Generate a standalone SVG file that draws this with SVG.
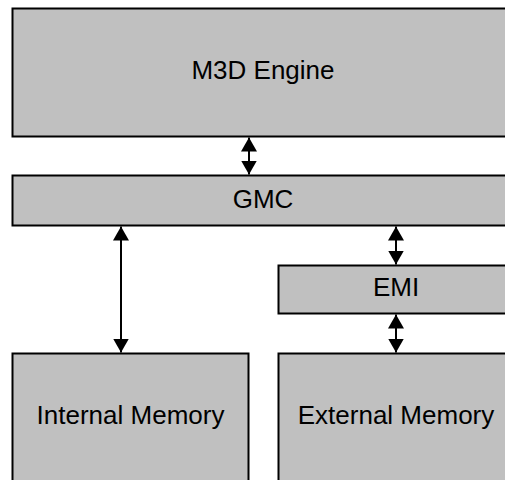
<svg xmlns="http://www.w3.org/2000/svg" width="505" height="480" viewBox="0 0 505 480">
<defs>
<style>
.box{fill:#C0C0C0;stroke:#000;stroke-width:2}
.lbl{font-family:"Liberation Sans",Arial,sans-serif;font-size:26px;fill:#000;text-anchor:middle}
.conn{stroke:#000;stroke-width:2;fill:none;marker-start:url(#ah);marker-end:url(#ah)}
</style>
<marker id="ah" viewBox="0 0 14 16" refX="14" refY="8" markerWidth="14" markerHeight="16" markerUnits="userSpaceOnUse" orient="auto-start-reverse">
<path d="M0,0 L14,8 L0,16 Z" fill="#000"/>
</marker>
</defs>
<rect width="505" height="480" fill="#fff"/>
<g id="m3d">
<rect class="box" x="12.5" y="8.5" width="502" height="128"/>
<text class="lbl" x="263" y="79">M3D Engine</text>
</g>
<g id="gmc">
<rect class="box" x="12.5" y="175.5" width="502" height="50"/>
<text class="lbl" x="263" y="208">GMC</text>
</g>
<g id="emi">
<rect class="box" x="278.5" y="265.5" width="236" height="48"/>
<text class="lbl" x="396" y="296">EMI</text>
</g>
<g id="internal">
<rect class="box" x="12.5" y="353.5" width="236" height="140"/>
<text class="lbl" x="130.5" y="424">Internal Memory</text>
</g>
<g id="external">
<rect class="box" x="278.5" y="353.5" width="236" height="140"/>
<text class="lbl" x="396" y="424">External Memory</text>
</g>
<g id="connectors">
<line class="conn" x1="249" y1="137.5" x2="249" y2="174.5"/>
<line class="conn" x1="121" y1="226.5" x2="121" y2="352.5"/>
<line class="conn" x1="396" y1="226.5" x2="396" y2="264.5"/>
<line class="conn" x1="396" y1="314.5" x2="396" y2="352.5"/>
</g>
</svg>
